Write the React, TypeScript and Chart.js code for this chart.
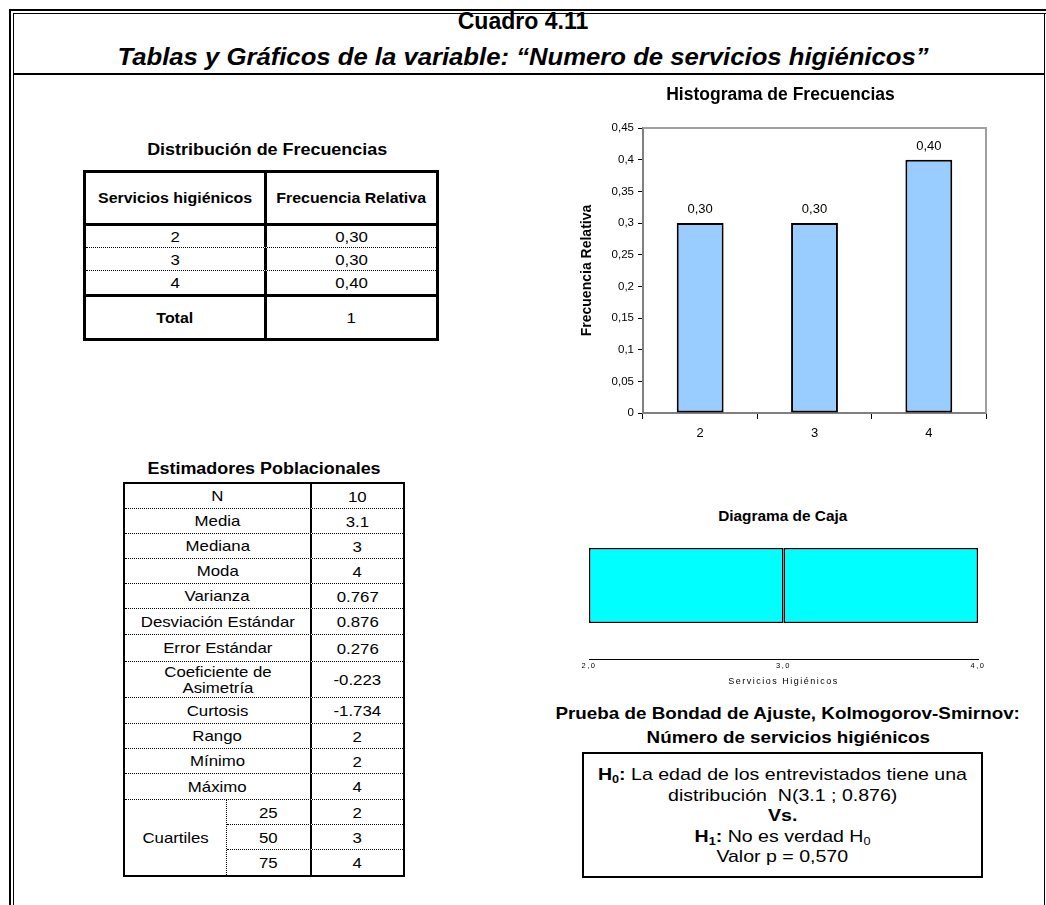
import React, { useEffect, useRef } from 'react';
import { Chart, registerables } from 'chart.js';

Chart.register(...registerables);

const FONT = '"Liberation Sans", Arial, Helvetica, sans-serif';

// ---- data ----
const categories = ['2', '3', '4'];
const relFreq = [0.3, 0.3, 0.4];
const relFreqText = ['0,30', '0,30', '0,40'];
const totalText = '1';
const yTickLabels = ['0', '0,05', '0,1', '0,15', '0,2', '0,25', '0,3', '0,35', '0,4', '0,45'];
const boxQuartiles = [2, 3, 4];
const boxTickLabels = ['2,0', '3,0', '4,0'];
const estLabels = [
  'N', 'Media', 'Mediana', 'Moda', 'Varianza', 'Desviación Estándar', 'Error Estándar',
  'Coeficiente de\nAsimetría', 'Curtosis', 'Rango', 'Mínimo', 'Máximo',
];
const estValues = ['10', '3.1', '3', '4', '0.767', '0.876', '0.276', '-0.223', '-1.734', '2', '2', '4'];
const quartileLevels = ['25', '50', '75'];
const quartileValues = ['2', '3', '4'];

// ---- layout (sizes only) ----
const estRowHeights = [25, 25, 25, 25, 25, 26, 27, 36, 26, 25, 25, 26];
const quartRowHeights = [25, 25, 25];
const distRowHeights = [21, 22, 23];
const SX = 1.12;

function Histogram() {
  const ref = useRef<HTMLCanvasElement>(null);
  useEffect(() => {
    const framePlugin = {
      id: 'frame',
      beforeDatasetsDraw(chart: any) {
        const { ctx, chartArea: a } = chart;
        ctx.save();
        ctx.strokeStyle = '#a0a0a0';
        ctx.lineWidth = 2;
        ctx.beginPath();
        ctx.moveTo(a.left, a.top);
        ctx.lineTo(a.right, a.top);
        ctx.lineTo(a.right, a.bottom);
        ctx.stroke();
        ctx.restore();
      },
    };
    const labelPlugin = {
      id: 'barLabels',
      afterDatasetsDraw(chart: any) {
        const { ctx } = chart;
        const meta = chart.getDatasetMeta(0);
        ctx.save();
        ctx.fillStyle = '#000';
        ctx.font = `13px ${FONT}`;
        ctx.textAlign = 'center';
        ctx.textBaseline = 'bottom';
        meta.data.forEach((bar: any, i: number) => {
          ctx.fillText(relFreqText[i], bar.x, bar.y - 7);
        });
        ctx.restore();
      },
    };
    const chart = new Chart(ref.current as HTMLCanvasElement, {
      type: 'bar',
      data: {
        labels: categories,
        datasets: [
          {
            data: relFreq,
            backgroundColor: '#99CCFF',
            borderColor: '#000',
            borderWidth: 2,
            borderSkipped: false,
            categoryPercentage: 1,
            barPercentage: 0.41,
          },
        ],
      },
      options: {
        responsive: false,
        animation: false,
        devicePixelRatio: 1,
        layout: { padding: { left: 15, right: 19, top: 3, bottom: 0 } },
        plugins: {
          legend: { display: false },
          tooltip: { enabled: false },
          title: {
            display: true,
            text: 'Histograma de Frecuencias',
            color: '#000',
            font: { family: FONT, size: 17.5, weight: 'bold' },
            padding: { top: 0, bottom: 22 },
          },
        },
        scales: {
          x: {
            grid: { display: true, drawOnChartArea: false, drawTicks: true, tickLength: 6, color: '#000', offset: true },
            border: { display: true, color: '#808080', width: 2 },
            ticks: { color: '#000', font: { family: FONT, size: 13 }, padding: 7 },
            afterFit: (s: any) => {
              s.height = 39;
            },
          },
          y: {
            min: 0,
            max: 0.45,
            ticks: {
              stepSize: 0.05,
              color: '#000',
              font: { family: FONT, size: 11.5 },
              padding: 4,
              callback: (_v: any, i: number) => yTickLabels[i],
            },
            grid: { drawOnChartArea: false, tickLength: 5, color: '#000' },
            border: { display: true, color: '#808080', width: 2 },
            title: {
              display: true,
              text: 'Frecuencia Relativa',
              color: '#000',
              font: { family: FONT, size: 14, weight: 'bold' },
              padding: { top: 4, bottom: 0 },
            },
            afterFit: (s: any) => {
              s.width = 68;
            },
          },
        },
      } as any,
      plugins: [framePlugin, labelPlugin],
    });
    return () => chart.destroy();
  }, []);
  return (
    <canvas
      ref={ref}
      width={445}
      height={370}
      style={{ position: 'absolute', left: 560, top: 82, width: 445, height: 370 }}
    />
  );
}

function BoxPlot() {
  const ref = useRef<HTMLCanvasElement>(null);
  useEffect(() => {
    const common = {
      backgroundColor: '#00FFFF',
      borderColor: '#000',
      borderWidth: 1.5,
      borderSkipped: false,
      grouped: false,
      categoryPercentage: 1,
      barPercentage: 0.51,
    };
    const spacingPlugin = {
      id: 'spacing',
      beforeDraw(chart: any) {
        chart.ctx.letterSpacing = '1.5px';
      },
      afterDraw(chart: any) {
        chart.ctx.letterSpacing = '0px';
      },
    };
    const chart = new Chart(ref.current as HTMLCanvasElement, {
      type: 'bar',
      data: {
        labels: [''],
        datasets: [
          { ...common, data: [[boxQuartiles[0], boxQuartiles[1]]] },
          { ...common, data: [[boxQuartiles[1], boxQuartiles[2]]] },
        ],
      },
      options: {
        indexAxis: 'y',
        responsive: false,
        animation: false,
        devicePixelRatio: 1,
        layout: { padding: { left: 29, right: 27, top: 7, bottom: 0 } },
        plugins: { legend: { display: false }, tooltip: { enabled: false } },
        scales: {
          x: {
            type: 'linear',
            min: boxQuartiles[0],
            max: boxQuartiles[2],
            ticks: {
              stepSize: 1,
              color: '#000',
              font: { family: FONT, size: 7.5 },
              padding: 2,
              callback: (_v: any, i: number) => boxTickLabels[i],
            },
            grid: { display: false, drawTicks: false, tickLength: 0 },
            border: { display: true, color: '#000', width: 1 },
            title: {
              display: true,
              text: 'Servicios Higiénicos',
              color: '#000',
              font: { family: FONT, size: 9 },
              padding: { top: 4, bottom: 8 },
            },
            afterFit: (s: any) => {
              s.height = 36;
            },
          },
          y: { display: false },
        },
      } as any,
      plugins: [spacingPlugin],
    });
    return () => chart.destroy();
  }, []);
  return (
    <canvas
      ref={ref}
      width={445}
      height={190}
      style={{ position: 'absolute', left: 560, top: 505, width: 445, height: 190 }}
    />
  );
}

function St(props: { sx?: number; children: any; style?: React.CSSProperties }) {
  return (
    <span style={{ display: 'inline-block', transform: `scaleX(${props.sx ?? SX})`, ...(props.style || {}) }}>
      {props.children}
    </span>
  );
}

function CText(props: {
  cx: number;
  cy: number;
  size: number;
  bold?: boolean;
  italic?: boolean;
  sx?: number;
  children: any;
}) {
  const w = 1000;
  const lh = Math.round(props.size * 1.2);
  return (
    <div
      style={{
        position: 'absolute',
        left: props.cx - w / 2,
        width: w,
        top: props.cy - lh / 2,
        lineHeight: `${lh}px`,
        fontSize: props.size,
        fontWeight: props.bold ? 'bold' : 'normal',
        fontStyle: props.italic ? 'italic' : 'normal',
        textAlign: 'center',
        whiteSpace: 'nowrap',
      }}
    >
      <St sx={props.sx}>{props.children}</St>
    </div>
  );
}

const cellBase: React.CSSProperties = {
  display: 'flex',
  alignItems: 'center',
  justifyContent: 'center',
  textAlign: 'center',
  boxSizing: 'border-box',
};

function DistTable() {
  return (
    <div
      style={{
        position: 'absolute',
        left: 83,
        top: 170,
        width: 356,
        boxSizing: 'border-box',
        border: '3px solid #000',
        fontSize: 15,
      }}
    >
      <div
        style={{
          display: 'flex',
          height: 50,
          borderBottom: '3px solid #000',
          boxSizing: 'content-box',
          fontWeight: 'bold',
          fontSize: 14.5,
        }}
      >
        <div style={{ ...cellBase, width: 181, borderRight: '3px solid #000' }}>
          <St sx={1.1}>Servicios higiénicos</St>
        </div>
        <div style={{ ...cellBase, flex: 1 }}>
          <St sx={1.1}>Frecuencia Relativa</St>
        </div>
      </div>
      {categories.map((c, i) => (
        <div
          key={c}
          style={{
            display: 'flex',
            height: distRowHeights[i],
            boxSizing: 'content-box',
            borderBottom: i < categories.length - 1 ? '1px dotted #000' : '3px solid #000',
          }}
        >
          <div style={{ ...cellBase, width: 181, borderRight: '3px solid #000' }}>
            <St>{c}</St>
          </div>
          <div style={{ ...cellBase, flex: 1 }}>
            <St>{relFreqText[i]}</St>
          </div>
        </div>
      ))}
      <div style={{ display: 'flex', height: 41 }}>
        <div style={{ ...cellBase, width: 181, borderRight: '3px solid #000', fontWeight: 'bold', fontSize: 14.5 }}>
          <St sx={1.1}>Total</St>
        </div>
        <div style={{ ...cellBase, flex: 1 }}>
          <St>{totalText}</St>
        </div>
      </div>
    </div>
  );
}

function EstTable() {
  return (
    <div
      style={{
        position: 'absolute',
        left: 123,
        top: 482,
        width: 282,
        boxSizing: 'border-box',
        border: '2px solid #000',
        fontSize: 15,
      }}
    >
      {estLabels.map((l, i) => (
        <div
          key={l}
          style={{ display: 'flex', height: estRowHeights[i], boxSizing: 'border-box', borderBottom: '1px dotted #000' }}
        >
          <div style={{ ...cellBase, width: 187, borderRight: '2px solid #000' }}>
            <St style={{ whiteSpace: 'pre-line', lineHeight: '16px', textAlign: 'center' }}>{l}</St>
          </div>
          <div style={{ ...cellBase, flex: 1 }}>
            <St>{estValues[i]}</St>
          </div>
        </div>
      ))}
      <div style={{ display: 'flex' }}>
        <div style={{ ...cellBase, width: 102, borderRight: '1px dotted #000' }}>
          <St>Cuartiles</St>
        </div>
        <div style={{ flex: 1 }}>
          {quartileLevels.map((q, i) => (
            <div
              key={q}
              style={{
                display: 'flex',
                height: quartRowHeights[i],
                boxSizing: 'border-box',
                borderBottom: i < quartileLevels.length - 1 ? '1px dotted #000' : 'none',
              }}
            >
              <div style={{ ...cellBase, width: 85, borderRight: '2px solid #000' }}>
                <St>{q}</St>
              </div>
              <div style={{ ...cellBase, flex: 1 }}>
                <St>{quartileValues[i]}</St>
              </div>
            </div>
          ))}
        </div>
      </div>
    </div>
  );
}

function KSBox() {
  const sub: React.CSSProperties = { fontSize: 11, verticalAlign: '-3px', lineHeight: 0 };
  const lineStyle: React.CSSProperties = { height: 20.5, lineHeight: '20.5px', whiteSpace: 'nowrap' };
  return (
    <div
      style={{
        position: 'absolute',
        left: 582,
        top: 752,
        width: 401,
        height: 126,
        boxSizing: 'border-box',
        border: '2px solid #000',
        fontSize: 17,
        textAlign: 'center',
        paddingTop: 11,
      }}
    >
      <div style={lineStyle}>
        <St sx={1.15}>
          <b>
            H<span style={sub}>0</span>:
          </b>{' '}
          La edad de los entrevistados tiene una
        </St>
      </div>
      <div style={lineStyle}>
        <St sx={1.15}>distribución&nbsp; N(3.1 ; 0.876)</St>
      </div>
      <div style={lineStyle}>
        <St sx={1.15}>
          <b>Vs.</b>
        </St>
      </div>
      <div style={lineStyle}>
        <St sx={1.15}>
          <b>
            H<span style={sub}>1</span>:
          </b>{' '}
          No es verdad H<span style={sub}>0</span>
        </St>
      </div>
      <div style={lineStyle}>
        <St sx={1.15}>Valor p = 0,570</St>
      </div>
    </div>
  );
}

export default function App() {
  const line = (l: number, t: number, w: number, h: number) => (
    <div style={{ position: 'absolute', left: l, top: t, width: w, height: h, background: '#000' }} />
  );
  return (
    <div
      style={{
        position: 'absolute',
        left: 0,
        top: 0,
        width: 1046,
        height: 905,
        overflow: 'hidden',
        background: '#fff',
        color: '#000',
        fontFamily: FONT,
      }}
    >
      {/* frame */}
      {line(9, 9, 2, 896)}
      {line(9, 9, 1037, 2)}
      {line(13, 13, 1, 892)}
      {line(13, 13, 1033, 1)}
      {line(1044, 13, 1, 892)}
      {line(13, 73, 1032, 2)}

      <CText cx={523} cy={20} size={24} bold sx={0.96}>
        Cuadro 4.11
      </CText>
      <CText cx={523} cy={56} size={24} bold italic sx={1.07}>
        Tablas y Gráficos de la variable: “Numero de servicios higiénicos”
      </CText>

      <CText cx={267} cy={149} size={16} bold>
        Distribución de Frecuencias
      </CText>
      <DistTable />

      <CText cx={264} cy={468} size={16} bold>
        Estimadores Poblacionales
      </CText>
      <EstTable />

      <Histogram />

      <CText cx={783} cy={516} size={14} bold sx={1.1}>
        Diagrama de Caja
      </CText>
      <BoxPlot />

      <CText cx={788} cy={713} size={16.5} bold sx={1.14}>
        Prueba de Bondad de Ajuste, Kolmogorov-Smirnov:
      </CText>
      <CText cx={788} cy={737} size={16.5} bold sx={1.14}>
        Número de servicios higiénicos
      </CText>
      <KSBox />
    </div>
  );
}
